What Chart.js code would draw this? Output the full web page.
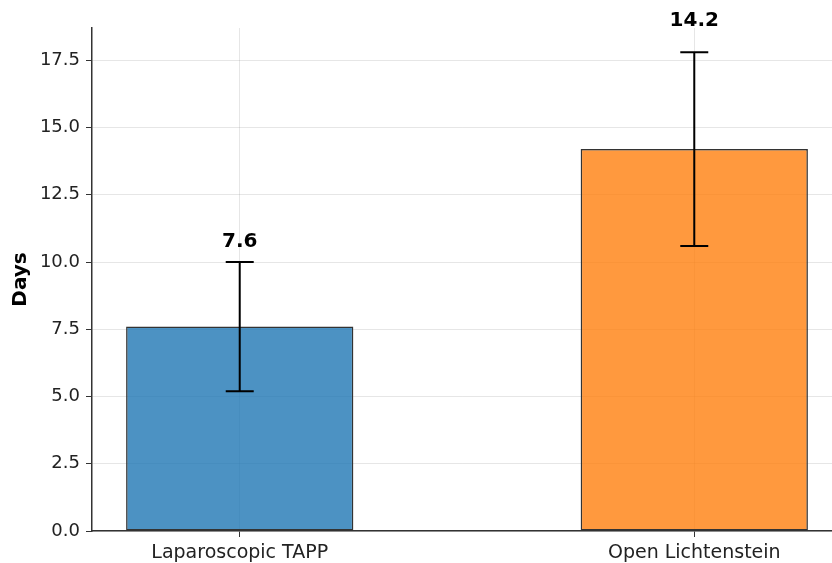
<!DOCTYPE html>
<html>
<head>
<meta charset="utf-8">
<script src="https://cdn.jsdelivr.net/npm/chart.js@4.4.0/dist/chart.umd.min.js"></script>
<style>
  html, body { margin: 0; padding: 0; background: #fff; overflow: hidden; }
  #wrap { width: 832px; height: 563px; }
</style>
</head>
<body>
<div id="wrap"><canvas id="chart" width="832" height="563"></canvas></div>
<script>
const categories = ['Laparoscopic TAPP', 'Open Lichtenstein'];
const means = [7.6, 14.2];
const errors = [2.4, 3.6];
const yTicks = [0, 2.5, 5, 7.5, 10, 12.5, 15, 17.5];

const fillColors = ['rgba(31,119,180,0.8)', 'rgba(255,127,14,0.8)'];
const FONT = "'DejaVu Sans', sans-serif";

// error bars + value labels on top of everything
const errorBars = {
  id: 'errorBars',
  afterDraw(chart) {
    const ctx = chart.ctx;
    const xs = chart.scales.x;
    const ys = chart.scales.y;
    ctx.save();
    ctx.strokeStyle = '#000';
    ctx.lineWidth = 2;
    means.forEach((m, i) => {
      const x = xs.getPixelForValue(i);
      const lo = ys.getPixelForValue(m - errors[i]);
      const hi = ys.getPixelForValue(m + errors[i]);
      ctx.beginPath();
      ctx.moveTo(x, lo); ctx.lineTo(x, hi);
      ctx.moveTo(x - 14, lo); ctx.lineTo(x + 14, lo);
      ctx.moveTo(x - 14, hi); ctx.lineTo(x + 14, hi);
      ctx.stroke();

      ctx.fillStyle = '#000';
      ctx.font = 'bold 20px ' + FONT;
      ctx.textAlign = 'center';
      ctx.textBaseline = 'bottom';
      ctx.fillText(m.toFixed(1), x, ys.getPixelForValue((m + errors[i]) * 1.05) + 3);
    });
    ctx.restore();
  }
};

new Chart(document.getElementById('chart'), {
  type: 'bar',
  data: {
    datasets: [{
      data: means.map((v, i) => ({ x: i, y: v })),
      backgroundColor: fillColors,
      borderColor: '#333',
      borderWidth: 1.5,
      borderSkipped: false,
      categoryPercentage: 1,
      barPercentage: 0.5
    }]
  },
  options: {
    responsive: false,
    animation: false,
    layout: { padding: { top: 28, left: 0, right: 0, bottom: 0 } },
    plugins: { legend: { display: false }, tooltip: { enabled: false } },
    scales: {
      x: {
        type: 'linear',
        min: -0.325,
        max: 1.303,
        offset: false,
        z: 1,
        afterBuildTicks: s => { s.ticks = categories.map((c, i) => ({ value: i })); },
        afterFit: s => { s.height = 32; },
        ticks: {
          callback: v => categories[v],
          font: { family: FONT, size: 19 },
          color: '#222',
          padding: 5,
          maxRotation: 0
        },
        grid: { offset: false, color: 'rgba(128,128,128,0.2)', tickColor: '#333', tickLength: 6, lineWidth: 1 },
        border: { color: '#333', width: 1.5 }
      },
      y: {
        min: 0,
        max: 18.7,
        z: 1,
        afterBuildTicks: s => { s.ticks = yTicks.map(v => ({ value: v })); },
        afterFit: s => { s.width = 92; },
        ticks: {
          callback: v => v.toFixed(1),
          font: { family: FONT, size: 18 },
          color: '#222',
          padding: 6
        },
        title: {
          display: true,
          text: 'Days',
          font: { family: FONT, size: 20, weight: 'bold' },
          color: '#000',
          padding: { top: 9, bottom: 2 }
        },
        grid: { color: 'rgba(128,128,128,0.2)', tickColor: '#333', tickLength: 6, lineWidth: 1 },
        border: { color: '#333', width: 1.5 }
      }
    }
  },
  plugins: [errorBars]
});
</script>
</body>
</html>
